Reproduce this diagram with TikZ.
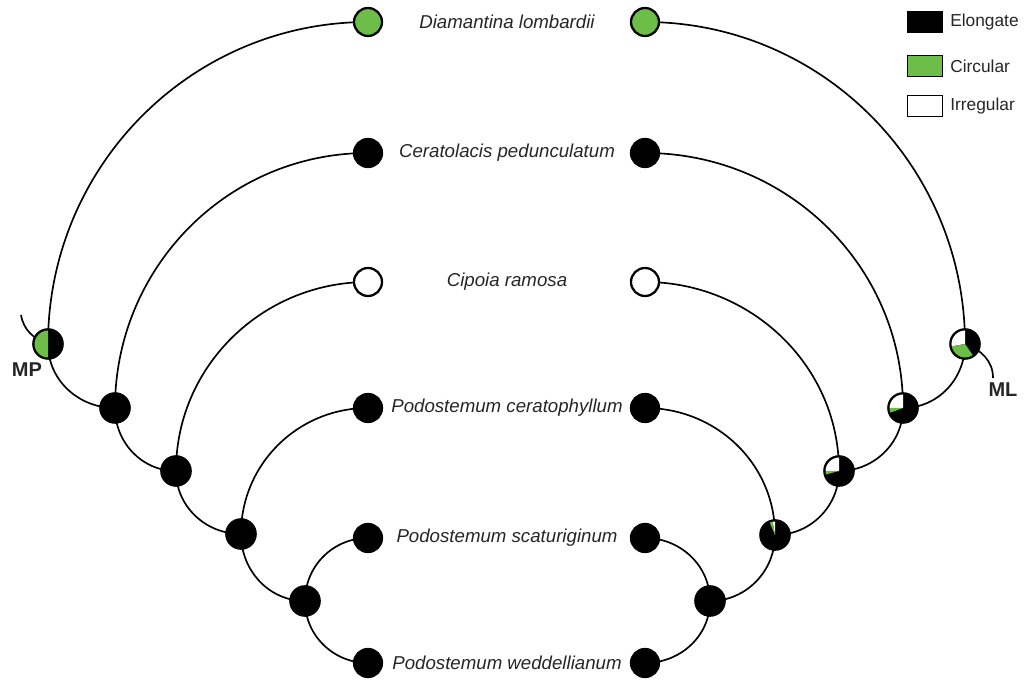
\documentclass[tikz,border=0pt]{standalone}
\usepackage{fontspec}
\setmainfont{Liberation Sans}
\setsansfont{Liberation Sans}
\usetikzlibrary{backgrounds}
\definecolor{pgreen}{RGB}{108,190,72}
\newcommand\pieslice[3]{\fill[#1] (path picture bounding box.center) -- ++(#2:20pt) arc[start angle=#2,end angle=#3,radius=20pt] -- cycle;}
\tikzset{
  tip/.style={circle,draw=black,line width=1.7pt,minimum size=21pt,inner sep=0pt},
  inner/.style={circle,draw=black,line width=1.7pt,minimum size=22pt,inner sep=0pt,fill=black},
  taxon/.style={font=\fontsize{14pt}{16pt}\selectfont\itshape,text=black!85},
  edge/.style={line width=1.25pt},
  lbl/.style={font=\fontsize{15pt}{17pt}\selectfont\bfseries,text=black!85},
  legbox/.style={draw=black,line width=1.1pt,minimum width=26pt,minimum height=16pt,inner sep=0pt},
  legtxt/.style={font=\fontsize{13pt}{15pt}\selectfont,anchor=west,text=black!85,inner sep=0pt}
}
\begin{document}
\begin{tikzpicture}[x=0.75pt,y=0.75pt]
\useasboundingbox (0,0) rectangle (1024,681);
% tips left
\node[tip,fill=pgreen] (l1) at (368,659) {};
\node[tip,fill=black] (l2) at (368,528) {};
\node[tip,fill=white] (l3) at (368,399) {};
\node[tip,fill=black] (l4) at (368,273) {};
\node[tip,fill=black] (l5) at (368,143) {};
\node[tip,fill=black] (l6) at (368,18) {};
% tips right
\node[tip,fill=pgreen] (r1) at (645,659) {};
\node[tip,fill=black] (r2) at (645,528) {};
\node[tip,fill=white] (r3) at (645,399) {};
\node[tip,fill=black] (r4) at (645,273) {};
\node[tip,fill=black] (r5) at (645,143) {};
\node[tip,fill=black] (r6) at (645,18) {};
% labels
\node[taxon] (t1) at (507,659) {Diamantina lombardii};
\node[taxon] (t2) at (507,528) {Ceratolacis pedunculatum};
\node[taxon] (t3) at (507,399) {Cipoia ramosa};
\node[taxon] (t4) at (507,273) {Podostemum ceratophyllum};
\node[taxon] (t5) at (507,143) {Podostemum scaturiginum};
\node[taxon] (t6) at (507,18) {Podostemum weddellianum};
% internal left
\node[inner,fill=black,path picture={\pieslice{pgreen}{90}{270}}] (mp) at (48,337) {};
\node[inner] (n1) at (115,273) {};
\node[inner] (n2) at (176,210) {};
\node[inner] (n3) at (241,147) {};
\node[inner] (n4) at (305,80) {};
% internal right
\node[inner,path picture={\pieslice{white}{90}{190}\pieslice{pgreen}{190}{305}}] (ml) at (965,337) {};
\node[inner,path picture={\pieslice{white}{90}{180}\pieslice{pgreen}{180}{200}}] (m1) at (903,273) {};
\node[inner,path picture={\pieslice{white}{90}{180}\pieslice{pgreen}{180}{195}}] (m2) at (839,210) {};
\node[inner,path picture={\pieslice{white}{90}{100}\pieslice{pgreen}{100}{113}}] (m3) at (775,146) {};
\node[inner] (m4) at (710,80) {};
% stubs and root labels
\coordinate (mpstub) at (21,366);
\coordinate (mlstub) at (993,303);
\node[lbl] (mplbl) at (27,311) {MP};
\node[lbl] (mllbl) at (1003,291) {ML};
% edges
\begin{scope}[on background layer]
\draw[edge] (l1.center) to[out=180,in=90] (mp.center);
\draw[edge] (l2.center) to[out=180,in=90] (n1.center);
\draw[edge] (l3.center) to[out=180,in=90] (n2.center);
\draw[edge] (l4.center) to[out=180,in=90] (n3.center);
\draw[edge] (l5.center) to[out=180,in=90] (n4.center);
\draw[edge] (l6.center) to[out=180,in=-90] (n4.center);
\draw[edge] (mp.center) to[out=-90,in=180] (n1.center);
\draw[edge] (n1.center) to[out=-90,in=180] (n2.center);
\draw[edge] (n2.center) to[out=-90,in=180] (n3.center);
\draw[edge] (n3.center) to[out=-90,in=180] (n4.center);
\draw[edge] (r1.center) to[out=0,in=90] (ml.center);
\draw[edge] (r2.center) to[out=0,in=90] (m1.center);
\draw[edge] (r3.center) to[out=0,in=90] (m2.center);
\draw[edge] (r4.center) to[out=0,in=90] (m3.center);
\draw[edge] (r5.center) to[out=0,in=90] (m4.center);
\draw[edge] (r6.center) to[out=0,in=-90] (m4.center);
\draw[edge] (ml.center) to[out=-90,in=0] (m1.center);
\draw[edge] (m1.center) to[out=-90,in=0] (m2.center);
\draw[edge] (m2.center) to[out=-90,in=0] (m3.center);
\draw[edge] (m3.center) to[out=-90,in=0] (m4.center);
\draw[edge] (mpstub) to[out=-80,in=160] (mp.center);
\draw[edge] (ml.center) to[out=-20,in=90] (mlstub);
\end{scope}
% legend
\node[legbox,fill=black] (k1) at (925,659) {};
\node[legbox,fill=pgreen] (k2) at (925,615) {};
\node[legbox,fill=white] (k3) at (925,575) {};
\node[legtxt] (e1) at (950,659) {Elongate};
\node[legtxt] (e2) at (950,615) {Circular};
\node[legtxt] (e3) at (950,575) {Irregular};
\end{tikzpicture}
\end{document}
